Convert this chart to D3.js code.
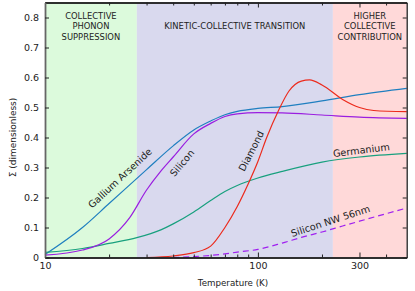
<!DOCTYPE html>
<html>
<head>
<meta charset="utf-8">
<script src="https://cdn.jsdelivr.net/npm/d3@7"></script>
<style>
  body { margin: 0; background: #fff; }
  text { font-family: "DejaVu Sans", sans-serif; }
</style>
</head>
<body>
<svg id="chart"></svg>
<script>
// regions (temperature, K)
var regionStart = [10, 27, 225];
var regionEnd = [27, 225, 500];
var regionColor = ['#dcfadc', '#d9d9ee', '#ffd9d9'];
var regionLabel = [
  ['COLLECTIVE', 'PHONON', 'SUPPRESSION'],
  ['KINETIC-COLLECTIVE TRANSITION'],
  ['HIGHER', 'COLLECTIVE', 'CONTRIBUTION']
];

// series
var gaasT = [10, 15, 20, 30, 40, 50, 60, 70, 80, 100, 130, 200, 300, 500];
var gaasV = [0.01, 0.10, 0.18, 0.293, 0.372, 0.425, 0.455, 0.476, 0.487, 0.497, 0.503, 0.522, 0.543, 0.564];

var siT = [10, 15, 20, 25, 30, 35, 40, 50, 60, 70, 80, 100, 130, 200, 300, 500];
var siV = [0.008, 0.025, 0.062, 0.133, 0.225, 0.288, 0.335, 0.412, 0.447, 0.47, 0.479, 0.483, 0.482, 0.475, 0.468, 0.464];

var geT = [10, 15, 20, 27, 35, 40, 50, 60, 70, 80, 100, 130, 200, 300, 500];
var geV = [0.017, 0.03, 0.047, 0.066, 0.092, 0.112, 0.152, 0.19, 0.22, 0.24, 0.265, 0.287, 0.318, 0.335, 0.347];

var diaT = [30, 40, 50, 60, 70, 80, 90, 100, 110, 125, 140, 160, 175, 200, 250, 300, 350, 500];
var diaV = [0, 0.005, 0.016, 0.038, 0.1, 0.17, 0.245, 0.32, 0.40, 0.49, 0.555, 0.588, 0.592, 0.575, 0.527, 0.50, 0.49, 0.486];

var nwT = [40, 50, 60, 70, 80, 100, 130, 160, 200, 250, 300, 400, 500];
var nwV = [0, 0.003, 0.007, 0.012, 0.018, 0.027, 0.048, 0.067, 0.085, 0.105, 0.121, 0.146, 0.165];

// ticks
var xMajorTicks = [10, 100, 300];
var xMinorTicks = [20, 30, 40, 50, 60, 70, 80, 90, 200, 400];
var yTicks = [0, 0.1, 0.2, 0.3, 0.4, 0.5, 0.6, 0.7, 0.8];

var width = 415, height = 291;
var margin = {top: 2.5, right: 8.3, bottom: 33.5, left: 45};
var w = width - margin.left - margin.right;
var h = height - margin.top - margin.bottom;

var svg = d3.select('#chart')
  .attr('width', width)
  .attr('height', height);

var g = svg.append('g')
  .attr('transform', 'translate(' + margin.left + ',' + margin.top + ')');

var x = d3.scaleLog().domain([10, 500]).range([0, w]);
var y = d3.scaleLinear().domain([0, 0.85]).range([h, 0]);

// shaded regions
regionStart.forEach((s, i) => {
  g.append('rect')
    .attr('x', x(s))
    .attr('y', 0)
    .attr('width', x(regionEnd[i]) - x(s))
    .attr('height', h)
    .attr('fill', regionColor[i]);

  var cx = (x(s) + x(regionEnd[i])) / 2;
  var lines = regionLabel[i];
  var startY = lines.length == 1 ? 23.5 : 13;
  lines.forEach((t, j) => {
    g.append('text')
      .attr('x', cx)
      .attr('y', startY + j * 10.7)
      .attr('text-anchor', 'middle')
      .attr('dominant-baseline', 'central')
      .attr('fill', '#222')
      .style('font-size', '8.4px')
      .text(t);
  });
});

var series = [
  {t: gaasT, v: gaasV, color: '#1f7fc0', dash: null},
  {t: geT, v: geV, color: '#18a07e', dash: null},
  {t: siT, v: siV, color: '#9a1ee0', dash: null},
  {t: diaT, v: diaV, color: '#ec2a1c', dash: null},
  {t: nwT, v: nwV, color: '#a020f0', dash: '6,4'}
];

var line = d3.line()
  .x(d => x(d[0]))
  .y(d => y(d[1]))
  .curve(d3.curveMonotoneX);

series.forEach((s) => {
  g.append('path')
    .datum(s.t.map((t, i) => [t, s.v[i]]))
    .attr('d', line)
    .attr('fill', 'none')
    .attr('stroke', s.color)
    .attr('stroke-width', 1.2)
    .attr('stroke-dasharray', s.dash);
});

// curve labels: text, temperature, value, angle
var labelText = ['Gallium Arsenide', 'Silicon', 'Diamond', 'Germanium', 'Silicon NW 56nm'];
var labelT = [22.5, 44, 93, 306, 219];
var labelV = [0.265, 0.315, 0.355, 0.358, 0.122];
var labelAngle = [-43, -50, -63, -7, -18];

labelText.forEach((t, i) => {
  g.append('text')
    .attr('transform', 'translate(' + x(labelT[i]) + ',' + y(labelV[i]) + ') rotate(' + labelAngle[i] + ')')
    .attr('text-anchor', 'middle')
    .attr('dominant-baseline', 'central')
    .attr('fill', '#222')
    .style('font-size', '9.7px')
    .text(t);
});

// axes
var fmtY = d => d === 0 ? '0' : d3.format('.1f')(d);

var xAxis = g.append('g')
  .attr('transform', 'translate(0,' + h + ')')
  .call(d3.axisBottom(x).tickValues(xMajorTicks).tickFormat(d3.format('d')).tickSizeInner(-5).tickSizeOuter(0).tickPadding(5));
g.append('g')
  .attr('transform', 'translate(0,' + h + ')')
  .call(d3.axisBottom(x).tickValues(xMinorTicks).tickFormat('').tickSizeInner(-3).tickSizeOuter(0));

var xTop = g.append('g')
  .call(d3.axisTop(x).tickValues(xMajorTicks).tickFormat('').tickSizeInner(-5).tickSizeOuter(0));
g.append('g')
  .call(d3.axisTop(x).tickValues(xMinorTicks).tickFormat('').tickSizeInner(-3).tickSizeOuter(0));

var yAxis = g.append('g')
  .call(d3.axisLeft(y).tickValues(yTicks).tickFormat(fmtY).tickSizeInner(-4).tickSizeOuter(0).tickPadding(6));
var yRight = g.append('g')
  .attr('transform', 'translate(' + w + ',0)')
  .call(d3.axisRight(y).tickValues(yTicks).tickFormat('').tickSizeInner(-4).tickSizeOuter(0));

g.selectAll('.domain').attr('stroke', '#222').attr('stroke-width', 1.3);
yAxis.select('.domain').attr('stroke', '#666').attr('stroke-width', 1.8);
g.selectAll('.tick line').attr('stroke', '#222');
g.selectAll('.tick text')
  .attr('fill', '#222')
  .style('font-family', '"DejaVu Sans", sans-serif')
  .style('font-size', '9.5px');

// axis titles
svg.append('text')
  .attr('x', 233)
  .attr('y', 283)
  .attr('text-anchor', 'middle')
  .attr('dominant-baseline', 'central')
  .attr('fill', '#222')
  .style('font-size', '8.7px')
  .text('Temperature (K)');

svg.append('text')
  .attr('transform', 'translate(13,' + (margin.top + y(0.4)) + ') rotate(-90)')
  .attr('text-anchor', 'middle')
  .attr('dominant-baseline', 'central')
  .attr('fill', '#222')
  .style('font-size', '9px')
  .text('Σ (dimensionless)');
</script>
</body>
</html>
